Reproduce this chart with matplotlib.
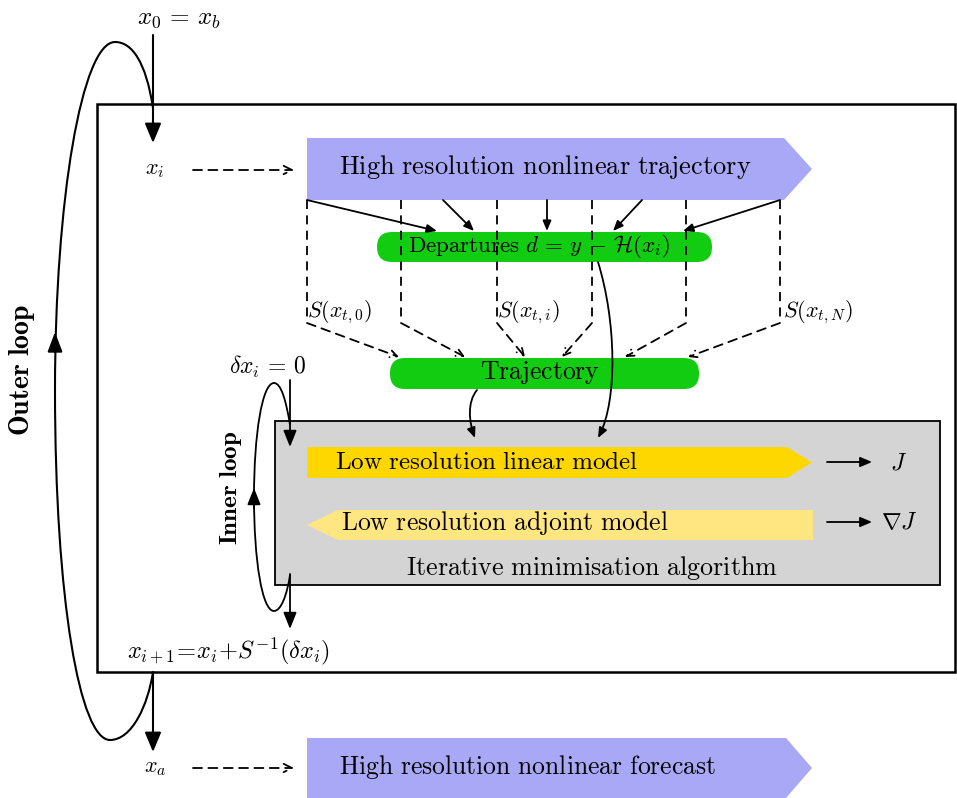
import matplotlib
matplotlib.use("Agg")
import matplotlib.pyplot as plt
from matplotlib.patches import Polygon, FancyBboxPatch, Rectangle, FancyArrowPatch, PathPatch
from matplotlib.path import Path

plt.rcParams['mathtext.fontset'] = 'cm'

# ---- texts ----
box_labels = {
    'traj_hr': r'$\mathrm{High\ resolution\ nonlinear\ trajectory}$',
    'forecast': r'$\mathrm{High\ resolution\ nonlinear\ forecast}$',
    'departures': r'$\mathrm{Departures}\ d\,=\,y\,-\,\mathcal{H}(x_i)$',
    'trajectory': r'$\mathrm{Trajectory}$',
    'linear': r'$\mathrm{Low\ resolution\ linear\ model}$',
    'adjoint': r'$\mathrm{Low\ resolution\ adjoint\ model}$',
    'iter': r'$\mathrm{Iterative\ minimisation\ algorithm}$',
}
s_labels = [r'$S(x_{t,0})$', r'$S(x_{t,i})$', r'$S(x_{t,N})$']
state_labels = [r'$x_0\,=\,x_b$', r'$x_i$', r'$x_a$', r'$\delta x_i\,=\,0$',
                r'$x_{i+1}\!=\!x_i\!+\!S^{-1}(\delta x_i)$']
out_labels = [r'$J$', r'$\nabla J$']
loop_labels = [r'$\mathbf{Outer\ loop}$', r'$\mathbf{Inner\ loop}$']

BLUE = '#a8a8f6'
GREEN = '#12cc12'
GOLD = '#ffd700'
PALE = '#ffe680'
GRAY = '#d4d4d4'

fig = plt.figure(figsize=(9.57, 7.98), dpi=100)
ax = fig.add_axes([0, 0, 1, 1])
ax.set_xlim(0, 957)
ax.set_ylim(798, 0)
ax.axis('off')

def pentagon(x0, xb, xt, y0, y1, color, left=False):
    ym = (y0 + y1) / 2
    if not left:
        pts = [(x0, y0), (xb, y0), (xt, ym), (xb, y1), (x0, y1)]
    else:
        pts = [(xt, ym), (xb, y0), (x0, y0), (x0, y1), (xb, y1)]
    ax.add_patch(Polygon(pts, closed=True, facecolor=color, edgecolor='none', zorder=2))

def arrow(p0, p1, style='-|>', hl=8, hw=3.5, ls='-', lw=1.3, z=5, path=None):
    st = f'{style},head_length={hl},head_width={hw}'
    if path is not None:
        a = FancyArrowPatch(path=path, arrowstyle=st, color='black', lw=lw,
                            linestyle=ls, zorder=z, shrinkA=0, shrinkB=0)
    else:
        a = FancyArrowPatch(p0, p1, arrowstyle=st, color='black', lw=lw,
                            linestyle=ls, zorder=z, shrinkA=0, shrinkB=0,
                            mutation_scale=1)
    ax.add_patch(a)

DASH = (0, (5, 3.5))

# outer rectangle
ax.add_patch(Rectangle((97, 104), 858, 568, facecolor='white', edgecolor='black', lw=1.8, zorder=1))

# blue arrows
pentagon(307, 784, 812, 138, 200, BLUE)
ax.text(545, 167, box_labels['traj_hr'], ha='center', va='center', fontsize=19, zorder=6)
pentagon(307, 786, 812, 738, 798, BLUE)
ax.text(528, 767, box_labels['forecast'], ha='center', va='center', fontsize=18.5, zorder=6)

# green boxes
ax.add_patch(FancyBboxPatch((377, 232), 335, 30, boxstyle='round,pad=0,rounding_size=15',
                            facecolor=GREEN, edgecolor='none', zorder=2))
ax.text(539, 247, box_labels['departures'], ha='center', va='center', fontsize=16.5, zorder=6)
ax.add_patch(FancyBboxPatch((390, 358), 309, 31, boxstyle='round,pad=0,rounding_size=15',
                            facecolor=GREEN, edgecolor='none', zorder=2))
ax.text(540, 372, box_labels['trajectory'], ha='center', va='center', fontsize=18.5, zorder=6)

# gray box
ax.add_patch(Rectangle((275, 421), 665, 164, facecolor=GRAY, edgecolor='black', lw=1.3, zorder=1.5))
pentagon(307, 787, 812, 447, 478, GOLD)
ax.text(486, 462, box_labels['linear'], ha='center', va='center', fontsize=18, zorder=6)
pentagon(813, 338, 307, 510, 540, PALE, left=True)
ax.text(505, 523, box_labels['adjoint'], ha='center', va='center', fontsize=18.5, zorder=6)
ax.text(592, 568, box_labels['iter'], ha='center', va='center', fontsize=18.8, zorder=6)

# outputs J
arrow((827, 462), (872, 462), hl=7, hw=3)
arrow((827, 522), (872, 522), hl=7, hw=3)
ax.text(898, 462, out_labels[0], ha='center', va='center', fontsize=17)
ax.text(899, 522, out_labels[1], ha='center', va='center', fontsize=17)

# solid arrows blue -> departures
solid_src = [(307, 200), (443, 200), (547, 200), (642, 200), (780, 200)]
solid_dst = [(437, 231), (474, 231), (547, 231), (613, 231), (683, 231)]
for s, d in zip(solid_src, solid_dst):
    arrow(s, d, hl=6, hw=2.5, lw=1.3)

# dashed lines blue -> trajectory
dash_x = [307, 401, 497, 592, 686, 780]
dash_dst = [(399, 357), (465, 357), (525, 357), (562, 357), (625, 357), (688, 357)]
for x, d in zip(dash_x, dash_dst):
    ax.plot([x, x], [200, 321], color='black', lw=1.3, linestyle=DASH, zorder=5)
    arrow((x, 323), d, style='->', hl=5, hw=2.5, ls=DASH, lw=1.3)

for lab, (x, y) in zip(s_labels, [(340, 312), (528, 312), (818, 312)]):
    ax.text(x, y, lab, ha='center', va='center', fontsize=16, zorder=6)

# curved arrows into gray box
p1 = Path([(598, 262), (616, 320), (618, 400), (598, 438)],
          [Path.MOVETO, Path.CURVE4, Path.CURVE4, Path.CURVE4])
arrow(None, None, path=p1, hl=6, hw=2.5)
p2 = Path([(477, 390), (467, 402), (469, 422), (475, 438)],
          [Path.MOVETO, Path.CURVE4, Path.CURVE4, Path.CURVE4])
arrow(None, None, path=p2, hl=6, hw=2.5)

# state labels
ax.text(179, 18, state_labels[0], ha='center', va='center', fontsize=18)
ax.text(155, 170, state_labels[1], ha='center', va='center', fontsize=16)
ax.text(155, 768, state_labels[2], ha='center', va='center', fontsize=16)
ax.text(268, 367, state_labels[3], ha='center', va='center', fontsize=17)
ax.text(228, 651, state_labels[4], ha='center', va='center', fontsize=17.5)

# dashed arrows to blue
arrow((193, 170), (294, 170), style='->', hl=6, hw=3, ls=DASH, lw=1.3)
arrow((193, 768), (294, 768), style='->', hl=6, hw=3, ls=DASH, lw=1.3)

# main vertical arrows
arrow((153, 35), (153, 143), hl=12, hw=5, lw=1.5)
arrow((153, 672), (153, 752), hl=12, hw=5, lw=1.5)
arrow((290, 380), (290, 447), hl=10, hw=4, lw=1.3)
arrow((290, 574), (290, 629), hl=10, hw=4, lw=1.3)

# outer loop
C = Path.CURVE4
outer = Path([(153, 108), (146, 62), (132, 42), (115, 42),
              (82, 42), (55, 200), (55, 390),
              (55, 600), (80, 740), (110, 740),
              (132, 740), (148, 705), (153, 672)],
             [Path.MOVETO, C, C, C, C, C, C, C, C, C, C, C, C])
ax.add_patch(PathPatch(outer, facecolor='none', edgecolor='black', lw=1.5, zorder=4))
arrow((55, 352), (55, 332), hl=12, hw=4.5, lw=1.5)

# inner loop
inner = Path([(290, 425), (286, 400), (281, 383), (274, 383),
              (262, 383), (254, 435), (254, 497),
              (254, 560), (262, 611), (274, 611),
              (281, 611), (287, 595), (290, 575)],
             [Path.MOVETO, C, C, C, C, C, C, C, C, C, C, C, C])
ax.add_patch(PathPatch(inner, facecolor='none', edgecolor='black', lw=1.3, zorder=4))
arrow((254, 508), (254, 488), hl=10, hw=4, lw=1.3)

ax.text(22, 370, loop_labels[0], ha='center', va='center', fontsize=20, rotation=90)
ax.text(231, 488, loop_labels[1], ha='center', va='center', fontsize=18, rotation=90)

fig.savefig('out.png', dpi=100)
